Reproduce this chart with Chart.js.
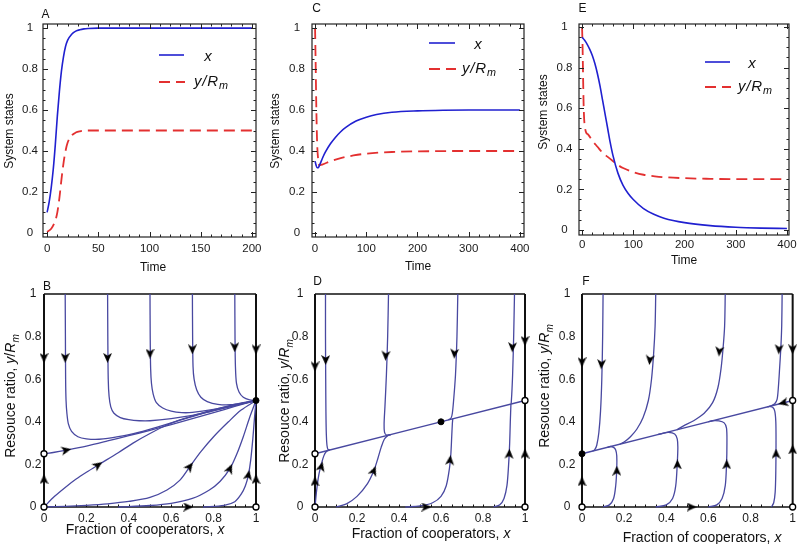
<!DOCTYPE html>
<html><head><meta charset="utf-8">
<script src="https://cdn.jsdelivr.net/npm/chart.js@4.4.0/dist/chart.umd.min.js"></script>
<style>
html,body{margin:0;padding:0;background:#fff;}
#wrap{position:relative;width:800px;height:544px;overflow:hidden;font-family:"Liberation Sans",Arial,Helvetica,sans-serif;color:#111;}
#wrap canvas{position:absolute;left:0;top:0;}
.t{position:absolute;white-space:nowrap;line-height:1;}
.c{transform:translate(-50%,-50%);}
.r{transform:translate(-50%,-50%) rotate(-90deg);}
.l{transform:translate(0,-50%);}
.sub{font-size:72%;vertical-align:-0.35em;}
.lg{font-style:italic;font-size:15px;}
</style></head><body><div id="wrap">
<canvas id="cA" width="800" height="544"></canvas>
<canvas id="cC" width="800" height="544"></canvas>
<canvas id="cE" width="800" height="544"></canvas>
<canvas id="cB" width="800" height="544"></canvas>
<canvas id="cD" width="800" height="544"></canvas>
<canvas id="cF" width="800" height="544"></canvas>

<div class="t c" style="left:45.5px;top:13.5px;font-size:12px">A</div>
<div class="t c" style="left:316.5px;top:8px;font-size:12px">C</div>
<div class="t c" style="left:582.5px;top:8px;font-size:12px">E</div>
<div class="t c" style="left:47px;top:286px;font-size:12px">B</div>
<div class="t c" style="left:317.5px;top:280.5px;font-size:12px">D</div>
<div class="t c" style="left:586px;top:280.5px;font-size:12px">F</div>

<div class="t r" style="left:9px;top:131px;font-size:12px">System states</div>
<div class="t r" style="left:275px;top:131px;font-size:12px">System states</div>
<div class="t r" style="left:543px;top:112px;font-size:12px">System states</div>
<div class="t c" style="left:153px;top:267px;font-size:12px">Time</div>
<div class="t c" style="left:418px;top:266px;font-size:12px">Time</div>
<div class="t c" style="left:684px;top:260px;font-size:12px">Time</div>

<div class="t c" style="left:145px;top:529px;font-size:14px">Fraction of cooperators, <i>x</i></div>
<div class="t c" style="left:431px;top:532.5px;font-size:14px">Fraction of cooperators, <i>x</i></div>
<div class="t c" style="left:702px;top:537px;font-size:14px">Fraction of cooperators, <i>x</i></div>
<div class="t r" style="left:12px;top:396px;font-size:14px">Resouce ratio, <i>y</i>/<i>R<span class="sub">m</span></i></div>
<div class="t r" style="left:286px;top:401px;font-size:14px">Resouce ratio, <i>y</i>/<i>R<span class="sub">m</span></i></div>
<div class="t r" style="left:546px;top:386px;font-size:14px">Resouce ratio, <i>y</i>/<i>R<span class="sub">m</span></i></div>

<div class="t c lg" style="left:208px;top:55px">x</div>
<div class="t l lg" style="left:194px;top:82px;letter-spacing:0.8px">y/R<span class="sub">m</span></div>
<div class="t c lg" style="left:478px;top:43px">x</div>
<div class="t l lg" style="left:462px;top:69px;letter-spacing:0.8px">y/R<span class="sub">m</span></div>
<div class="t c lg" style="left:752px;top:62px">x</div>
<div class="t l lg" style="left:738px;top:87px;letter-spacing:0.8px">y/R<span class="sub">m</span></div>
</div>
<script>
// ---------------- DATA ----------------
const topYTicks = [0, 0.2, 0.4, 0.6, 0.8, 1];
const A_xTicks = [0, 50, 100, 150, 200];
const CE_xTicks = [0, 100, 200, 300, 400];
const bottomTicks = [0, 0.2, 0.4, 0.6, 0.8, 1];

// Panel A
const A_tx = [0, 2, 4, 6, 8, 10, 12, 14, 16, 18, 20, 24, 28, 32, 36, 40, 50, 60, 80, 200];
const A_x  = [0.10, 0.15, 0.22, 0.31, 0.43, 0.57, 0.69, 0.79, 0.86, 0.91, 0.94, 0.97, 0.985, 0.992, 0.996, 0.998, 1, 1, 1, 1];
const A_ty = [0, 4, 8, 10, 12, 14, 16, 18, 20, 24, 28, 32, 40, 60, 200];
const A_y  = [0.005, 0.02, 0.06, 0.10, 0.17, 0.26, 0.34, 0.40, 0.44, 0.475, 0.49, 0.496, 0.5, 0.5, 0.5];

// Panel C
const C_tx = [0, 2, 4, 6, 8, 10, 15, 20, 30, 40, 50, 60, 80, 100, 120, 150, 200, 250, 300, 400];
const C_x  = [0.35, 0.33, 0.318, 0.318, 0.326, 0.338, 0.368, 0.394, 0.435, 0.467, 0.494, 0.515, 0.546, 0.565, 0.578, 0.589, 0.596, 0.599, 0.6, 0.6];
const C_ty = [0, 1, 2, 3, 4, 6, 8, 15, 30, 50, 75, 100, 150, 200, 300, 400];
const C_y  = [1.0, 0.85, 0.68, 0.54, 0.44, 0.36, 0.33, 0.335, 0.35, 0.365, 0.378, 0.387, 0.395, 0.398, 0.4, 0.4];

// Panel E
const E_tx = [0, 5, 10, 15, 20, 25, 30, 35, 40, 45, 50, 55, 60, 70, 80, 90, 100, 120, 140, 160, 200, 250, 300, 350, 400];
const E_x  = [0.95, 0.935, 0.915, 0.89, 0.86, 0.82, 0.77, 0.71, 0.64, 0.57, 0.50, 0.43, 0.37, 0.28, 0.22, 0.18, 0.15, 0.105, 0.077, 0.058, 0.036, 0.021, 0.013, 0.009, 0.007];
const E_ty = [0, 1, 2, 3, 4, 6, 8, 12, 20, 30, 40, 50, 60, 70, 80, 100, 120, 150, 200, 250, 300, 390];
const E_y  = [1.0, 0.9, 0.75, 0.62, 0.55, 0.5, 0.48, 0.47, 0.44, 0.41, 0.38, 0.36, 0.34, 0.32, 0.305, 0.285, 0.272, 0.262, 0.255, 0.252, 0.25, 0.25];

// Panel B trajectories [x, y/Rm]
const B_tr1 = [[0.1,1],[0.101,0.8],[0.102,0.6],[0.104,0.5],[0.108,0.44],[0.115,0.39],[0.13,0.355],[0.16,0.33],[0.2,0.32],[0.26,0.318],[0.35,0.33],[0.45,0.352],[0.55,0.38],[0.65,0.41],[0.75,0.44],[0.85,0.465],[0.93,0.485],[1,0.5]];
const B_tr2 = [[0.3,1],[0.301,0.8],[0.303,0.6],[0.307,0.52],[0.315,0.47],[0.33,0.44],[0.36,0.42],[0.4,0.41],[0.45,0.405],[0.5,0.405],[0.6,0.415],[0.7,0.43],[0.8,0.452],[0.9,0.476],[1,0.5]];
const B_tr3 = [[0.5,1],[0.501,0.8],[0.503,0.65],[0.507,0.58],[0.515,0.53],[0.53,0.49],[0.56,0.465],[0.6,0.45],[0.65,0.443],[0.7,0.444],[0.8,0.458],[0.9,0.478],[1,0.5]];
const B_tr4 = [[0.7,1],[0.701,0.8],[0.703,0.66],[0.708,0.6],[0.72,0.55],[0.74,0.515],[0.77,0.495],[0.82,0.482],[0.88,0.48],[0.94,0.488],[1,0.5]];
const B_tr5 = [[0.9,1],[0.901,0.8],[0.903,0.66],[0.908,0.58],[0.92,0.54],[0.94,0.515],[0.97,0.503],[1,0.5]];
const B_tr6 = [[0,0.25],[0.05,0.257],[0.1,0.266],[0.2,0.286],[0.3,0.31],[0.4,0.335],[0.5,0.36],[0.6,0.387],[0.7,0.415],[0.8,0.443],[0.9,0.472],[1,0.5]];
const B_tr7 = [[0,0],[0.05,0.05],[0.1,0.092],[0.15,0.13],[0.2,0.163],[0.26,0.2],[0.35,0.255],[0.42,0.3],[0.5,0.345],[0.58,0.385],[0.66,0.415],[0.74,0.44],[0.82,0.462],[0.9,0.482],[1,0.5]];
const B_tr8 = [[0,0],[0.1,0.003],[0.2,0.008],[0.3,0.015],[0.4,0.026],[0.5,0.045],[0.58,0.08],[0.64,0.125],[0.688,0.19],[0.74,0.26],[0.8,0.33],[0.87,0.4],[0.93,0.455],[1,0.5]];
const B_tr9 = [[0.35,0],[0.5,0.007],[0.6,0.017],[0.7,0.04],[0.78,0.08],[0.83,0.12],[0.877,0.18],[0.91,0.25],[0.94,0.33],[0.97,0.42],[1,0.5]];
const B_tr10 = [[0.75,0],[0.85,0.008],[0.9,0.025],[0.93,0.06],[0.95,0.1],[0.964,0.15],[0.975,0.22],[0.985,0.32],[0.993,0.42],[1,0.5]];
const B_trajs = [B_tr1,B_tr2,B_tr3,B_tr4,B_tr5,B_tr6,B_tr7,B_tr8,B_tr9,B_tr10];
// arrows: [x, y, direction in degrees clockwise from up]
const B_arrows = [[0,0.7,180],[0.1,0.7,180],[0.3,0.7,180],[0.5,0.72,180],[0.7,0.74,180],[0.9,0.75,180],[1,0.74,180],
  [0,0.13,0],[1,0.13,0],[0.68,0,90],[0.105,0.267,78],[0.255,0.197,55],[0.688,0.19,38],[0.877,0.18,24],[0.964,0.15,11]];
const B_open = [[0,0],[0,0.25],[1,0]];
const B_filled = [[1,0.5]];

// Panel D
const D_tr1 = [[0,0.25],[1,0.5]];
const D_tr2 = [[0.05,1],[0.05,0.8],[0.051,0.6],[0.052,0.45],[0.054,0.34],[0.057,0.29],[0.062,0.27],[0.07,0.268]];
const D_tr3 = [[0.35,1],[0.346,0.8],[0.34,0.62],[0.333,0.47],[0.329,0.39],[0.331,0.352],[0.34,0.338],[0.36,0.34]];
const D_tr4 = [[0.68,1],[0.676,0.8],[0.669,0.62],[0.66,0.5],[0.654,0.44],[0.648,0.418],[0.635,0.409]];
const D_tr5 = [[0.95,1],[0.946,0.8],[0.941,0.62],[0.937,0.53],[0.934,0.484]];
const D_tr6 = [[0,0],[0.008,0.08],[0.018,0.15],[0.03,0.2],[0.042,0.24],[0.055,0.262],[0.07,0.268]];
const D_tr7 = [[0.1,0],[0.15,0.015],[0.2,0.05],[0.25,0.11],[0.28,0.17],[0.3,0.23],[0.315,0.28],[0.33,0.318],[0.345,0.334],[0.36,0.34]];
const D_tr8 = [[0.43,0],[0.5,0.005],[0.56,0.02],[0.6,0.05],[0.625,0.1],[0.64,0.18],[0.647,0.25],[0.651,0.33],[0.654,0.39],[0.656,0.414]];
const D_tr9 = [[0.85,0],[0.88,0.01],[0.9,0.04],[0.914,0.1],[0.922,0.2],[0.927,0.3],[0.93,0.4],[0.933,0.483]];
const D_trajs = [D_tr1,D_tr2,D_tr3,D_tr4,D_tr5,D_tr6,D_tr7,D_tr8,D_tr9];
const D_arrows = [[0,0.66,180],[0.051,0.69,180],[0.337,0.71,183],[0.664,0.72,183],[0.94,0.75,182],[1,0.78,180],
  [0,0.12,0],[0.03,0.19,15],[0.28,0.17,22],[0.643,0.22,5],[0.925,0.25,3],[1,0.25,0],[0.53,0,90]];
const D_open = [[0,0],[0,0.25],[1,0.5],[1,0]];
const D_filled = [[0.6,0.4]];

// Panel F
const F_tr1 = [[0,0.25],[1,0.5]];
const F_tr2 = [[0.1,1],[0.098,0.8],[0.094,0.6],[0.088,0.45],[0.08,0.35],[0.07,0.29],[0.06,0.268],[0.05,0.2625]];
const F_tr3 = [[0.35,1],[0.347,0.85],[0.34,0.72],[0.33,0.6],[0.315,0.5],[0.29,0.42],[0.26,0.365],[0.23,0.33],[0.2,0.305],[0.18,0.295]];
const F_tr4 = [[0.68,1],[0.677,0.85],[0.67,0.75],[0.66,0.65],[0.645,0.56],[0.62,0.49],[0.58,0.44],[0.53,0.405],[0.48,0.38],[0.45,0.3625]];
const F_tr5 = [[0.95,1],[0.948,0.85],[0.944,0.75],[0.938,0.65],[0.932,0.56],[0.926,0.505],[0.915,0.485],[0.9,0.476],[0.88,0.47]];
const F_tr6 = [[0.1,0],[0.13,0.01],[0.15,0.04],[0.16,0.1],[0.165,0.18],[0.165,0.24],[0.16,0.268],[0.15,0.28],[0.135,0.284],[0.12,0.28]];
const F_tr7 = [[0.35,0],[0.4,0.01],[0.43,0.04],[0.445,0.1],[0.452,0.2],[0.455,0.28],[0.452,0.32],[0.44,0.343],[0.41,0.35],[0.38,0.345],[0.36,0.34]];
const F_tr8 = [[0.6,0],[0.64,0.01],[0.665,0.04],[0.68,0.1],[0.686,0.2],[0.688,0.3],[0.686,0.37],[0.675,0.395],[0.65,0.404],[0.62,0.405],[0.6,0.4]];
const F_tr9 = [[0.9,0],[0.91,0.02],[0.917,0.07],[0.92,0.17],[0.921,0.3],[0.92,0.4],[0.915,0.45],[0.905,0.468],[0.89,0.4725]];
const F_trajs = [F_tr1,F_tr2,F_tr3,F_tr4,F_tr5,F_tr6,F_tr7,F_tr8,F_tr9];
const F_arrows = [[0,0.68,180],[0.092,0.67,183],[0.322,0.69,186],[0.652,0.73,185],[0.935,0.74,183],[1,0.74,180],
  [0,0.12,0],[0.165,0.17,0],[0.453,0.2,0],[0.687,0.2,0],[0.921,0.25,0],[1,0.27,0],[0.52,0,90],[0.955,0.489,256]];
const F_open = [[0,0],[1,0],[1,0.5]];
const F_filled = [[0,0.25]];

// ---------------- RENDERING ----------------
const FONT = '"Liberation Sans", Arial, Helvetica, sans-serif';
const TRAJ = '#4848a0';
const BLUE = '#2020d0';
const RED = '#e33030';

const arrowImg = (() => {
  const c = document.createElement('canvas'); c.width = 9; c.height = 10;
  const g = c.getContext('2d'); g.fillStyle = '#000';
  g.beginPath(); g.moveTo(4.5, 0); g.lineTo(9, 10); g.lineTo(4.5, 7.2); g.lineTo(0, 10); g.closePath(); g.fill();
  return c;
})();

const pts = (xs, ys) => xs.map((v, i) => ({x: v, y: ys[i]}));
const pairs = arr => arr.map(p => ({x: p[0], y: p[1]}));
const fmt = v => String(Math.round(v * 100) / 100);

function topFrame(xMajor, xMinorStep, legend) {
  return {
    id: 'topframe',
    afterDraw(chart) {
      const {ctx, chartArea: a, scales: {x, y}} = chart;
      ctx.save();
      ctx.strokeStyle = '#222'; ctx.lineWidth = 1.2;
      ctx.strokeRect(a.left, a.top, a.right - a.left, a.bottom - a.top);
      ctx.lineWidth = 1; ctx.beginPath();
      for (let v = xMajor[0]; v <= xMajor[xMajor.length - 1] + 1e-9; v += xMinorStep) {
        const p = Math.round(x.getPixelForValue(v)) + 0.5;
        const L = xMajor.some(m => Math.abs(m - v) < 1e-6) ? 5 : 2.5;
        ctx.moveTo(p, a.bottom); ctx.lineTo(p, a.bottom - L);
        ctx.moveTo(p, a.top); ctx.lineTo(p, a.top + L);
      }
      for (let v = 0; v <= 1.0001; v += 0.05) {
        const p = Math.round(y.getPixelForValue(v)) + 0.5;
        const L = Math.abs(Math.round(v * 5) - v * 5) < 1e-6 ? 5 : 2.5;
        ctx.moveTo(a.left, p); ctx.lineTo(a.left + L, p);
        ctx.moveTo(a.right, p); ctx.lineTo(a.right - L, p);
      }
      ctx.stroke();
      ctx.lineWidth = 1.6; ctx.strokeStyle = BLUE; ctx.setLineDash([]);
      ctx.beginPath(); ctx.moveTo(legend[0], legend[2]); ctx.lineTo(legend[1], legend[2]); ctx.stroke();
      ctx.lineWidth = 1.8; ctx.strokeStyle = RED; ctx.setLineDash([11, 6]);
      ctx.beginPath(); ctx.moveTo(legend[0], legend[3]); ctx.lineTo(legend[1] + 1, legend[3]); ctx.stroke();
      ctx.restore();
    }
  };
}

const bottomFrame = {
  id: 'bottomframe',
  beforeDatasetsDraw(chart) {
    const {ctx, chartArea: a, scales: {x}} = chart;
    ctx.save();
    ctx.strokeStyle = '#111'; ctx.lineWidth = 1.4;
    ctx.beginPath();
    ctx.moveTo(a.left, a.top); ctx.lineTo(a.right, a.top);
    ctx.moveTo(a.left, a.bottom); ctx.lineTo(a.right, a.bottom);
    ctx.stroke();
    ctx.lineWidth = 1;
    ctx.beginPath();
    for (let v = 0.05; v < 1; v += 0.05) {
      const p = Math.round(x.getPixelForValue(v)) + 0.5;
      ctx.moveTo(p, a.bottom); ctx.lineTo(p, a.bottom - 2.5);
    }
    ctx.stroke();
    ctx.lineWidth = 2;
    ctx.beginPath();
    ctx.moveTo(a.left, a.top); ctx.lineTo(a.left, a.bottom);
    ctx.moveTo(a.right, a.top); ctx.lineTo(a.right, a.bottom);
    ctx.stroke();
    ctx.restore();
  }
};

function makeChart(id, area, xr, yr, xTicks, yTicks, datasets, plugin, tf, yPad, xPad) {
  const yW = 40, xH = 22;
  return new Chart(document.getElementById(id), {
    type: 'scatter',
    data: {datasets},
    options: {
      responsive: false, animation: false, devicePixelRatio: 1, events: [],
      layout: {padding: {left: area[0] - yW, top: area[1], right: 800 - area[2], bottom: 544 - area[3] - xH}},
      plugins: {legend: {display: false}, tooltip: {enabled: false}},
      scales: {
        x: {type: 'linear', min: xr[0], max: xr[1], grid: {display: false, drawTicks: false, tickLength: 0}, border: {display: false},
            ticks: {font: {family: FONT, size: tf}, color: '#1a1a1a', padding: xPad, maxRotation: 0, autoSkip: false, callback: fmt},
            afterBuildTicks: s => { s.ticks = xTicks.map(v => ({value: v})); },
            afterFit: s => { s.height = xH; }},
        y: {type: 'linear', min: yr[0], max: yr[1], grid: {display: false, drawTicks: false, tickLength: 0}, border: {display: false},
            ticks: {font: {family: FONT, size: tf}, color: '#1a1a1a', padding: yPad, autoSkip: false, crossAlign: 'center', callback: fmt},
            afterBuildTicks: s => { s.ticks = yTicks.map(v => ({value: v})); },
            afterFit: s => { s.width = yW; }}
      }
    },
    plugins: [plugin]
  });
}

function seriesSets(tx, xv, ty, yv) {
  return [
    {data: pts(tx, xv), showLine: true, borderColor: BLUE, borderWidth: 1.6, pointRadius: 0, cubicInterpolationMode: 'monotone', clip: false},
    {data: pts(ty, yv), showLine: true, borderColor: RED, borderWidth: 1.8, borderDash: [11, 6], pointRadius: 0, cubicInterpolationMode: 'monotone', clip: false}
  ];
}

function phaseSets(trajs, arrows, open, filled) {
  const ds = [];
  ds.push({data: pairs(filled), pointRadius: 3, pointBackgroundColor: '#000', pointBorderColor: '#000', pointBorderWidth: 1, clip: false});
  ds.push({data: pairs(open), pointRadius: 3, pointBackgroundColor: '#fff', pointBorderColor: '#000', pointBorderWidth: 1.3, clip: false});
  ds.push({data: arrows.map(a => ({x: a[0], y: a[1]})), pointStyle: arrowImg, pointRadius: 5,
           pointRotation: arrows.map(a => a[2]), clip: false});
  trajs.forEach(t => ds.push({data: pairs(t), showLine: true, borderColor: TRAJ, borderWidth: 1.3, pointRadius: 0, tension: 0.3, clip: false}));
  return ds;
}

makeChart('cA', [43, 24, 256, 237], [-4, 204], [-0.02, 1.02], A_xTicks, topYTicks,
  seriesSets(A_tx, A_x, A_ty, A_y), topFrame(A_xTicks, 10, [159, 184, 55, 82]), 11.5, 5, 5);
makeChart('cC', [312, 24, 524, 237], [-6, 408], [-0.02, 1.02], CE_xTicks, topYTicks,
  seriesSets(C_tx, C_x, C_ty, C_y), topFrame(CE_xTicks, 20, [429, 455, 43, 69]), 11.5, 7, 5);
makeChart('cE', [579, 24, 789, 235], [-6, 404], [-0.025, 1.015], CE_xTicks, topYTicks,
  seriesSets(E_tx, E_x, E_ty, E_y), topFrame(CE_xTicks, 20, [705, 730, 62, 87]), 11.5, 6.5, 3);

makeChart('cB', [44, 294, 256, 507], [0, 1], [0, 1], bottomTicks, bottomTicks,
  phaseSets(B_trajs, B_arrows, B_open, B_filled), bottomFrame, 12, 2.5, 4);
makeChart('cD', [315, 294, 525, 507], [0, 1], [0, 1], bottomTicks, bottomTicks,
  phaseSets(D_trajs, D_arrows, D_open, D_filled), bottomFrame, 12, 6.5, 4);
makeChart('cF', [582, 294, 793, 507], [0, 1], [0, 1], bottomTicks, bottomTicks,
  phaseSets(F_trajs, F_arrows, F_open, F_filled), bottomFrame, 12, 6.5, 4);
</script>
</body></html>
